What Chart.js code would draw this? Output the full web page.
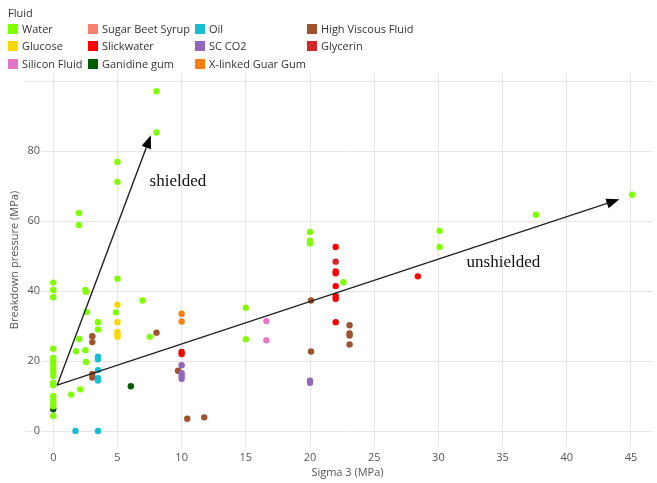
<!DOCTYPE html>
<html>
<head>
<meta charset="utf-8">
<script src="https://cdn.jsdelivr.net/npm/chart.js@4.4.1/dist/chart.umd.min.js"></script>
<style>
body { margin: 0; background: #fff; }
#wrap { position: relative; width: 657px; height: 483px; }
#legend { position: absolute; left: 0; top: 0; width: 657px; height: 72px; font: 11px "Open Sans", sans-serif; color: #333; }
#legend .ttl { position: absolute; left: 8px; top: 5px; }
#legend .item { position: absolute; white-space: nowrap; line-height: 14px; }
#legend .sw { display: inline-block; width: 10px; height: 10px; vertical-align: -1px; margin-right: 4px; }
</style>
</head>
<body>
<div id="wrap">
  <canvas id="chart" width="657" height="483"></canvas>
  <div id="legend"><div class="ttl">Fluid</div></div>
</div>
<script>
// values: [sigma3, breakdown pressure]
var fluidNames = ["Water", "Glucose", "Silicon Fluid", "Sugar Beet Syrup", "Slickwater", "Ganidine gum",
                  "Oil", "SC CO2", "X-linked Guar Gum", "High Viscous Fluid", "Glycerin"];

var water = [[0,42.4],[0,40.3],[0,38.2],[0,23.5],[0,20.9],[0,19.9],[0,18.9],[0,17.8],[0,16.9],[0,15.7],
             [0,13.8],[0,13.1],[0,10],[0,8.9],[0,7.9],[0,7.1],[0,4.3],
             [1.4,10.4],[2.1,11.9],[1.77,22.8],[2.02,26.3],[2.0,62.3],[2.0,58.9],[2.5,40.3],[2.55,39.8],
             [2.6,34],[2.5,23.1],[2.55,19.7],[3.48,31.1],[3.48,29],[5,43.5],[4.88,33.9],[5,76.9],[5,71.2],
             [6.95,37.3],[7.52,26.9],[8.04,97.1],[8.04,85.3],[15,35.2],[15,26.2],[20,56.9],[20,54.4],
             [20,53.6],[22.6,42.5],[30.1,57.2],[30.1,52.6],[37.6,61.8],[45.1,67.5]];
var glucose = [[5,36.1],[5,31.1],[5,28.3],[5,27.5],[5,26.9]];
var siliconFluid = [[16.6,31.4],[16.6,25.9]];
var sugarBeetSyrup = [];
var slickwater = [[10,22.6],[10,22.0],[22,52.6],[22,45.6],[22,45.1],[22,41.4],[22,38.6],[22,37.8],[22,31.1],[28.4,44.2]];
var ganidineGum = [[0,6.2],[6.04,12.8]];
var oil = [[3.48,21.2],[3.48,20.5],[3.48,17.4],[3.48,15.1],[3.48,14.4],[1.73,0],[3.48,0]];
var scCO2 = [[10,18.8],[10,16.5],[10,15.7],[10,14.9],[20,14.4],[20,13.8]];
var guarGum = [[10,33.5],[10,31.3]];
var highViscous = [[3.04,27.1],[3.04,25.4],[3.04,16.3],[3.04,15.3],[8.04,28.1],[9.72,17.2],[10.44,3.5],
                   [11.76,3.9],[20.08,37.3],[20.08,22.7],[23.08,30.2],[23.08,27.9],[23.08,27.3],[23.08,24.7]];
var glycerin = [[22,48.4]];

var seriesData = [water, glucose, siliconFluid, sugarBeetSyrup, slickwater, ganidineGum,
                  oil, scCO2, guarGum, highViscous, glycerin];

var xTicks = [0, 5, 10, 15, 20, 25, 30, 35, 40, 45];
var xTickLabels = ["0", "5", "10", "15", "20", "25", "30", "35", "40", "45"];
var yTicks = [0, 20, 40, 60, 80, 100];
var yTickLabels = ["0", "20", "40", "60", "80", ""];

// arrows and their captions, in data units
var arrowStart = [0.3, 13.1];
var shieldedEnd = [7.6, 84.5];
var unshieldedEnd = [44.1, 66.2];
var shieldedLabel = [7.5, 71.2];
var unshieldedLabel = [32.2, 48.1];

var colors = ["#7fff00", "#ffd700", "#e377c2", "#fa8072", "#ff0000", "#005c00",
              "#17becf", "#9467bd", "#ff7f0e", "#a0522d", "#d62728"];

// legend grid, column-major
var legend = document.getElementById('legend');
var colX = [8, 88, 195, 307];
var rowY = [22, 39, 57];
fluidNames.forEach(function(name, i) {
    var d = document.createElement('div');
    d.className = 'item';
    d.style.left = colX[Math.floor(i / 3)] + 'px';
    d.style.top = rowY[i % 3] + 'px';
    d.innerHTML = '<span class="sw" style="background:' + colors[i] + '"></span>' + name;
    legend.appendChild(d);
});

var arrowPlugin = {
    id: 'arrows',
    afterDatasetsDraw: function(chart) {
        var ctx = chart.ctx, xs = chart.scales.x, ys = chart.scales.y;
        function px(p) { return [xs.getPixelForValue(p[0]), ys.getPixelForValue(p[1])]; }
        function arrow(a, b) {
            var p0 = px(a), p1 = px(b);
            var ang = Math.atan2(p1[1] - p0[1], p1[0] - p0[0]);
            var len = 13, half = 5;
            var bx = p1[0] - len * Math.cos(ang), by = p1[1] - len * Math.sin(ang);
            ctx.beginPath();
            ctx.moveTo(p0[0], p0[1]);
            ctx.lineTo(bx, by);
            ctx.stroke();
            ctx.beginPath();
            ctx.moveTo(p1[0], p1[1]);
            ctx.lineTo(bx + half * Math.sin(ang), by - half * Math.cos(ang));
            ctx.lineTo(bx - half * Math.sin(ang), by + half * Math.cos(ang));
            ctx.closePath();
            ctx.fill();
        }
        ctx.save();
        ctx.strokeStyle = '#222';
        ctx.fillStyle = '#000';
        ctx.lineWidth = 1.4;
        arrow(arrowStart, shieldedEnd);
        arrow(arrowStart, unshieldedEnd);
        ctx.font = '17px "Liberation Serif", serif';
        ctx.fillStyle = '#111';
        ctx.textBaseline = 'middle';
        var s = px(shieldedLabel), u = px(unshieldedLabel);
        ctx.fillText('shielded', s[0], s[1]);
        ctx.fillText('unshielded', u[0], u[1]);
        ctx.restore();
    }
};

var ctx = document.getElementById('chart').getContext('2d');
var chart = new Chart(ctx, {
    type: 'scatter',
    data: {
        datasets: seriesData.map(function(pts, i) {
            return {
                label: fluidNames[i],
                data: pts.map(function(p) { return { x: p[0], y: p[1] }; }),
                backgroundColor: colors[i],
                borderColor: colors[i],
                borderWidth: 0,
                pointRadius: 3.2
            };
        })
    },
    options: {
        responsive: false,
        animation: false,
        layout: { padding: { top: 73, right: 1, left: 0, bottom: 0 } },
        plugins: { legend: { display: false }, tooltip: { enabled: false } },
        scales: {
            x: {
                type: 'linear',
                min: -0.88,
                max: 46.72,
                afterBuildTicks: function(s) { s.ticks = xTicks.map(function(v) { return { value: v }; }); },
                afterFit: function(s) { s.height = 36; },
                grid: { color: '#e6e6e6', drawTicks: false },
                border: { display: false },
                ticks: {
                    padding: 4,
                    color: '#555',
                    font: { family: '"Open Sans", sans-serif', size: 11 },
                    maxRotation: 0,
                    callback: function(v, i) { return xTickLabels[i]; }
                },
                title: {
                    display: true, text: 'Sigma 3 (MPa)', color: '#555',
                    font: { family: '"Open Sans", sans-serif', size: 11 },
                    padding: { top: 0, bottom: 4 }
                }
            },
            y: {
                min: -4.57,
                max: 102.3,
                afterBuildTicks: function(s) { s.ticks = yTicks.map(function(v) { return { value: v }; }); },
                afterFit: function(s) { s.width = 42; },
                grid: { color: '#e6e6e6', tickLength: 17 },
                border: { display: false },
                ticks: {
                    padding: -15,
                    color: '#555',
                    font: { family: '"Open Sans", sans-serif', size: 11 },
                    showLabelBackdrop: true,
                    backdropColor: '#fff',
                    backdropPadding: 1,
                    callback: function(v, i) { return yTickLabels[i]; }
                },
                title: {
                    display: true, text: 'Breakdown pressure (MPa)', color: '#555',
                    font: { family: '"Open Sans", sans-serif', size: 11 },
                    padding: { top: 8, bottom: 0 }
                }
            }
        }
    },
    plugins: [arrowPlugin]
});
</script>
</body>
</html>
